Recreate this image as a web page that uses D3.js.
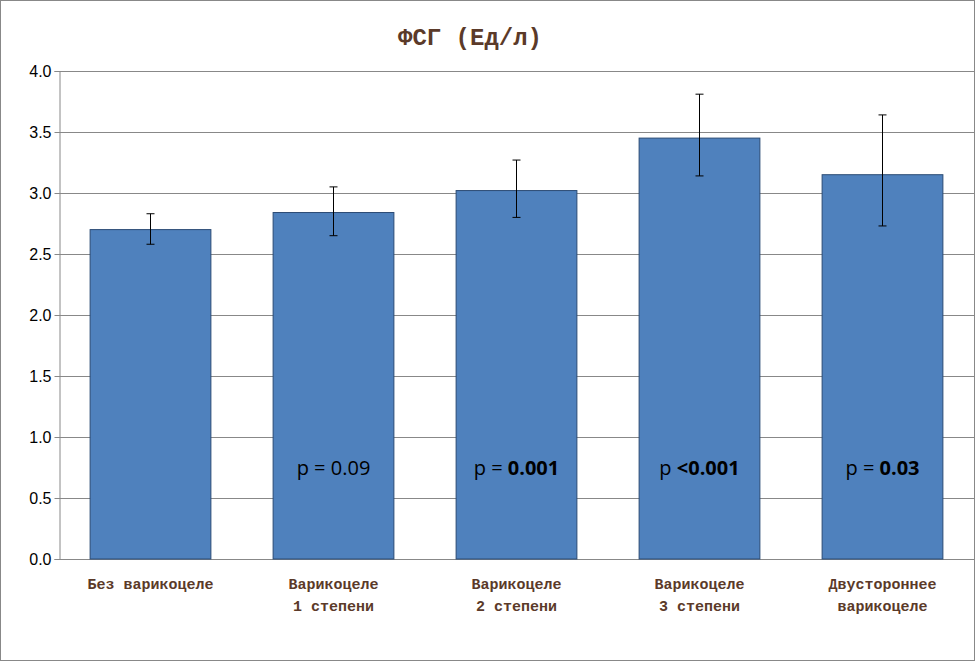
<!DOCTYPE html>
<html><head><meta charset="utf-8">
<script src="https://cdn.jsdelivr.net/npm/d3@7"></script>
<style>body{margin:0;background:#fff}</style></head>
<body><svg id="c" width="975" height="661"></svg>
<script>
const categories=[["Без варикоцеле"],["Варикоцеле","1 степени"],["Варикоцеле","2 степени"],["Варикоцеле","3 степени"],["Двустороннее","варикоцеле"]];
const values=[2.70,2.84,3.02,3.45,3.15];
const errLow=[2.58,2.65,2.80,3.14,2.73];
const errHigh=[2.83,3.05,3.27,3.81,3.64];
const pLabels=[null,["p = ","0.09",false],["p  = ","0.001",true],["p  ","<0.001",true],["p = ","0.03",true]];
const yTicks=[0,0.5,1,1.5,2,2.5,3,3.5,4];

const svg=d3.select("#c");
svg.append("rect").attr("x",0.5).attr("y",0.5).attr("width",974).attr("height",660).attr("fill","#fff").attr("stroke","#888");
const x=d3.scaleBand().domain(d3.range(5)).range([59,974]).paddingInner(0.34).paddingOuter(0.17);
const y=d3.scaleLinear().domain([0,4]).range([559,71]);
const brown="#5b3a29";
svg.append("text").attr("x",470).attr("y",45).attr("text-anchor","middle").attr("font-family","Liberation Mono").attr("font-weight","bold").attr("font-size",24).attr("fill",brown).text("ФСГ (Ед/л)");
svg.append("g").selectAll("line").data(yTicks).join("line").attr("x1",59).attr("x2",974).attr("y1",d=>Math.round(y(d))+0.5).attr("y2",d=>Math.round(y(d))+0.5).attr("stroke","#888");
const ax=svg.append("g").attr("transform","translate(59.5,0)").call(d3.axisLeft(y).tickValues(yTicks).tickFormat(d3.format(".1f")).tickSize(5));
ax.select(".domain").attr("stroke","#888");ax.selectAll(".tick line").attr("stroke","#888");
ax.selectAll("text").attr("font-family","Liberation Sans").attr("font-size",16).attr("fill","#000");
svg.append("line").attr("x1",59).attr("x2",974).attr("y1",559.5).attr("y2",559.5).attr("stroke","#888");
svg.append("g").selectAll("rect").data(values).join("rect").attr("x",(d,i)=>x(i)).attr("y",d=>y(d)).attr("width",x.bandwidth()).attr("height",d=>y(0)-y(d)).attr("fill","#4f81bd").attr("stroke","#2b4b74");
const eb=svg.append("g").attr("stroke","#000");
values.forEach((v,i)=>{const cx=x(i)+x.bandwidth()/2;
eb.append("line").attr("x1",cx).attr("x2",cx).attr("y1",y(errLow[i])).attr("y2",y(errHigh[i]));
[errLow[i],errHigh[i]].forEach(e=>eb.append("line").attr("x1",cx-4).attr("x2",cx+4).attr("y1",y(e)).attr("y2",y(e)));});
pLabels.forEach((p,i)=>{if(!p)return;const t=svg.append("text").attr("x",x(i)+x.bandwidth()/2).attr("y",475).attr("text-anchor","middle").attr("font-family","Open Sans").attr("font-size",20).attr("fill","#000");
t.append("tspan").text(p[0]);t.append("tspan").attr("font-weight",p[2]?"bold":"normal").text(p[1]);});
categories.forEach((c,i)=>{const t=svg.append("text").attr("x",x(i)+x.bandwidth()/2).attr("y",589).attr("text-anchor","middle").attr("font-family","Liberation Mono").attr("font-weight","bold").attr("font-size",15).attr("fill",brown);
c.forEach((l,j)=>t.append("tspan").attr("x",x(i)+x.bandwidth()/2).attr("dy",j?22:0).text(l));});
</script></body></html>
